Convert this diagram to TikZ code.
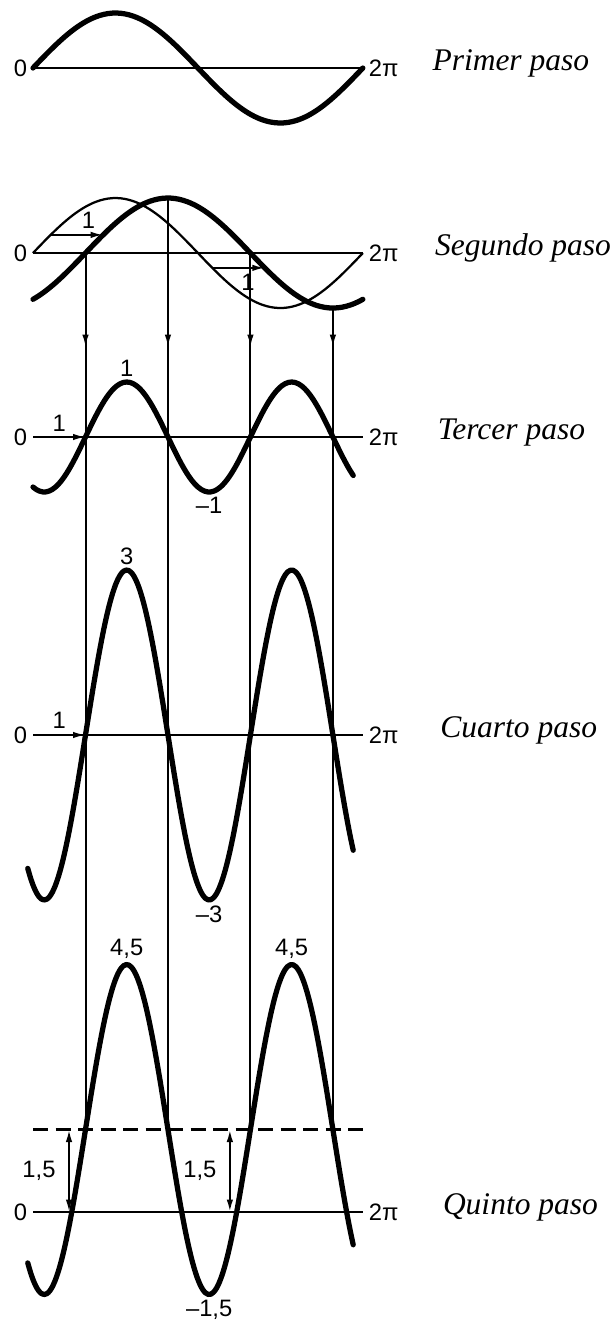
\documentclass[tikz,border=0pt]{standalone}
\usepackage{fontspec}
\setmainfont{Liberation Serif}
\newfontfamily\lblfont{Liberation Sans}
\usetikzlibrary{arrows.meta}

\tikzset{
  lbl/.style={font=\lblfont\fontsize{9.5}{11}\selectfont, inner sep=2pt},
  paso/.style={font=\itshape\fontsize{12.6}{15}\selectfont, anchor=base west, inner sep=0pt},
  axisline/.style={line width=0.8pt},
  wave/.style={line width=2.1pt, line cap=round, line join=round},
  thinwave/.style={line width=0.9pt},
  guide/.style={line width=0.8pt},
}

\begin{document}
\begin{tikzpicture}[x=21pt, y=22pt, >={Latex[length=5pt,width=2.6pt]}]
  \useasboundingbox (-0.6286,1.2364) rectangle (11.0857,-22.7636);
  % primer paso
  \begin{scope}
    \draw[axisline] (0,0) node[lbl, left] (zeroA) {0} -- (2*pi,0) node[lbl, right] (twopiA) {2π};
    \draw[wave] plot[domain=0:2*pi, samples=80, smooth] (\x,{sin(\x r)});
    \node[paso] (primer) at (7.6,-0.05) {Primer paso};
  \end{scope}
  % segundo paso
  \begin{scope}[shift={(0,-3.364)}]
    \draw[axisline] (0,0) node[lbl, left] (zeroB) {0} -- (2*pi,0) node[lbl, right] (twopiB) {2π};
    \draw[thinwave] plot[domain=0:2*pi, samples=80, smooth] (\x,{sin(\x r)});
    \draw[wave] plot[domain=0:2*pi, samples=80, smooth] (\x,{sin((\x-1) r)});
    \coordinate (shiftAs) at (0.336,0.33);
    \coordinate (shiftAe) at (1.336,0.33);
    \coordinate (shiftBs) at (3.415,-0.27);
    \coordinate (shiftBe) at (4.415,-0.27);
    \draw[guide,->] (shiftAs) -- (shiftAe) node[lbl, pos=0.72, above] (oneA) {1};
    \draw[guide,->] (shiftBs) -- (shiftBe) node[lbl, pos=0.68, below] (oneB) {1};
    \coordinate (top1) at (1,0);
    \coordinate (top2) at ({1+pi/2},1);
    \coordinate (top3) at ({1+pi},0);
    \coordinate (top4) at ({1+3*pi/2},-1);
    \foreach \k in {1,...,4}
      \coordinate (mid\k) at (top\k |- 0,-1.71);
    \node[paso] (segundo) at (7.65,-0.05) {Segundo paso};
  \end{scope}
  % tercer paso
  \begin{scope}[shift={(0,-6.709)}]
    \draw[axisline] (0,0) node[lbl, left] (zeroC) {0} -- (2*pi,0) node[lbl, right] (twopiC) {2π};
    \draw[guide,->] (0,0) -- (1,0) node[lbl, midway, above] (oneC) {1};
    \draw[wave] plot[domain=0:6.1, samples=100, smooth] (\x,{sin(2*(\x-1) r)});
    \node[lbl, above] (maxC) at ({1+pi/4},1) {1};
    \node[lbl, below] (minC) at ({1+3*pi/4},-1) {–1};
    \node[paso] (tercer) at (7.7,-0.05) {Tercer paso};
  \end{scope}
  % cuarto paso
  \begin{scope}[shift={(0,-12.127)}]
    \draw[axisline] (0,0) node[lbl, left] (zeroD) {0} -- (2*pi,0) node[lbl, right] (twopiD) {2π};
    \draw[guide,->] (0,0) -- (1,0) node[lbl, midway, above] (oneD) {1};
    \draw[wave] plot[domain=-0.1:6.1, samples=120, smooth] (\x,{3*sin(2*(\x-1) r)});
    \node[lbl, above] (maxD) at ({1+pi/4},3) {3};
    \node[lbl, below] (minD) at ({1+3*pi/4},-3) {–3};
    \node[paso] (cuarto) at (7.75,-0.05) {Cuarto paso};
  \end{scope}
  % quinto paso
  \begin{scope}[shift={(0,-20.8)}]
    \draw[axisline] (0,0) node[lbl, left] (zeroE) {0} -- (2*pi,0) node[lbl, right] (twopiE) {2π};
    \draw[line width=1.2pt, dash pattern=on 6pt off 3pt] (0,1.5) -- (2*pi,1.5);
    \draw[wave] plot[domain=-0.1:6.1, samples=120, smooth] (\x,{3*sin(2*(\x-1) r)+1.5});
    \coordinate (upA) at (0.686,1.5);
    \coordinate (lowA) at (0.686,0);
    \coordinate (upB) at (3.75,1.5);
    \coordinate (lowB) at (3.75,0);
    \draw[guide,<->] (upA) -- (lowA) node[lbl, midway, left=3pt] (offA) {1,5};
    \draw[guide,<->] (upB) -- (lowB) node[lbl, midway, left=3pt] (offB) {1,5};
    \node[lbl, above] (maxE1) at ({1+pi/4},4.5) {4,5};
    \node[lbl, above] (maxE2) at ({1+5*pi/4},4.5) {4,5};
    \node[lbl, below] (minE) at ({1+3*pi/4},-1.5) {–1,5};
    \foreach \k in {1,...,4}
      \coordinate (bot\k) at ({1+(\k-1)*pi/2},1.5);
    \node[paso] (quinto) at (7.8,-0.05) {Quinto paso};
  \end{scope}
  % lineas de proyeccion
  \foreach \k in {1,...,4} {
    \draw[guide] (top\k) -- (bot\k);
    \draw[guide,->] (top\k) -- (mid\k);
  }
\end{tikzpicture}
\end{document}
